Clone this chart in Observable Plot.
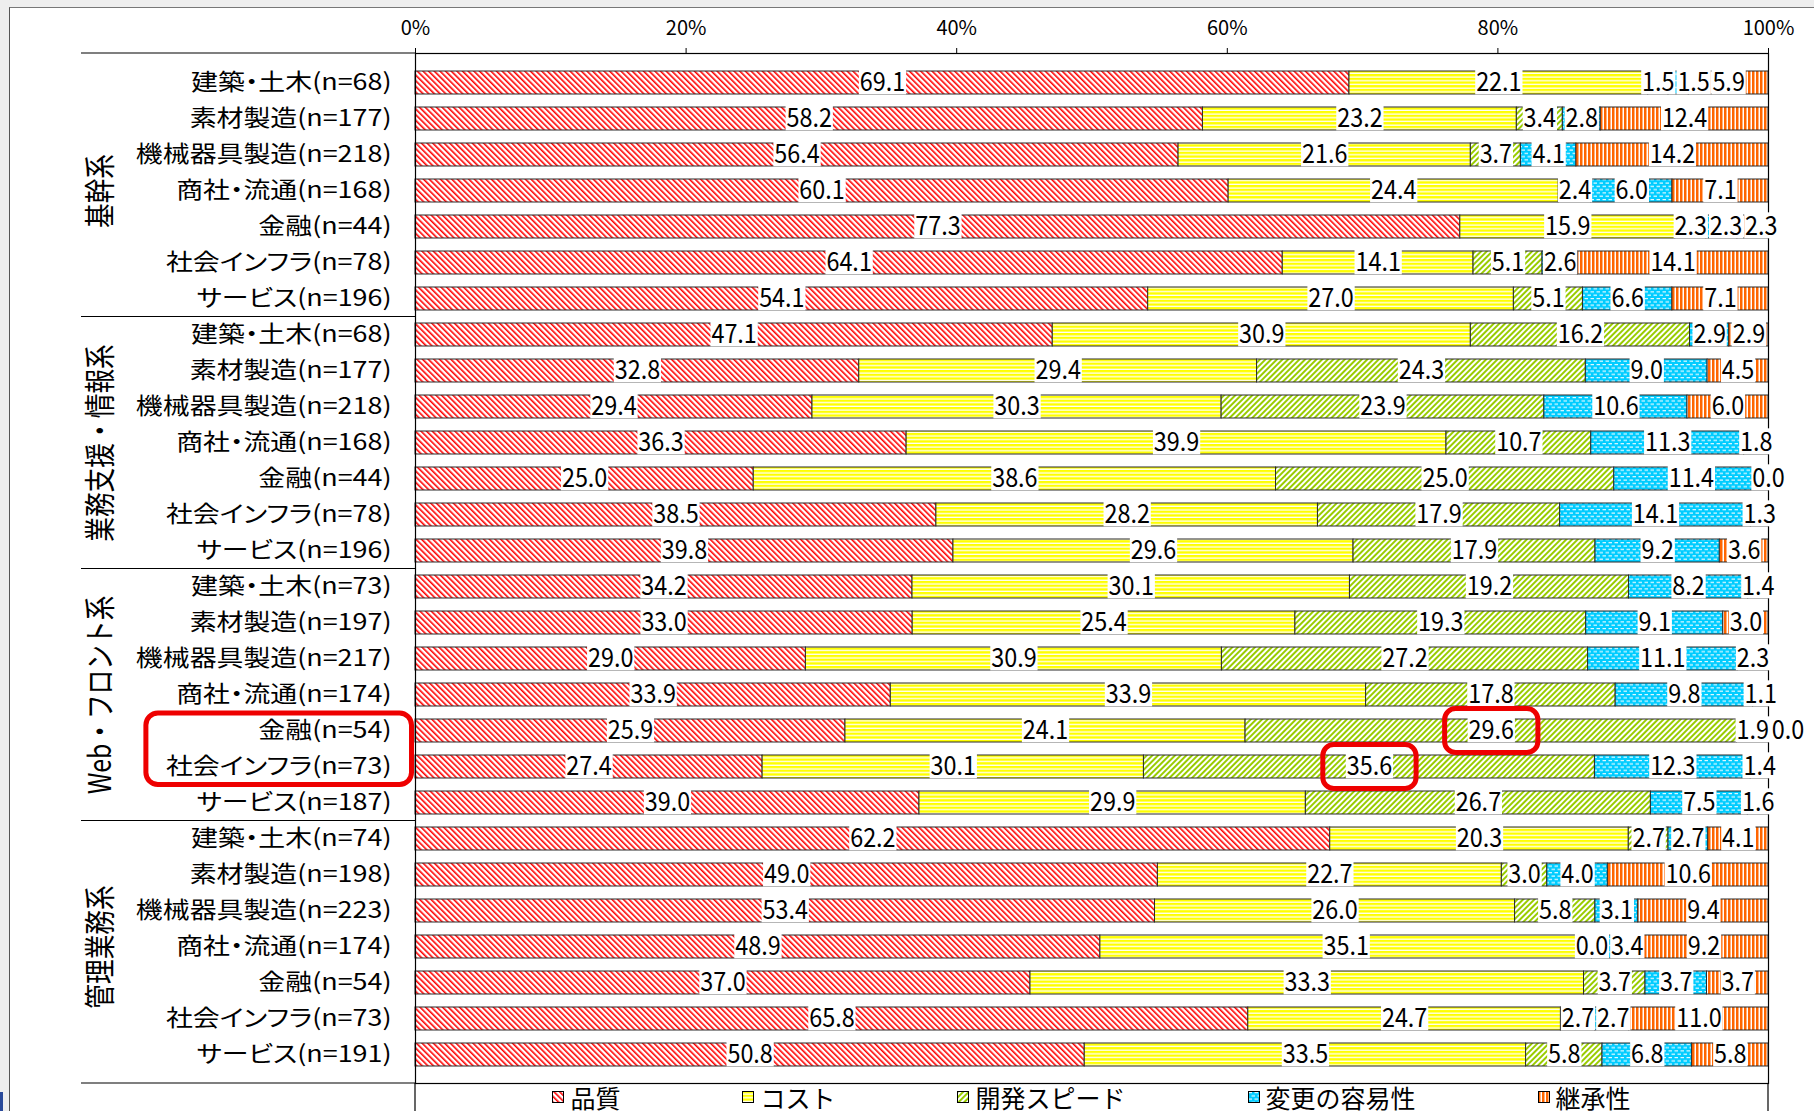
<!DOCTYPE html>
<html>
<head>
<meta charset="utf-8">
<script src="https://cdn.jsdelivr.net/npm/d3@7"></script>
<script src="https://cdn.jsdelivr.net/npm/@observablehq/plot@0.6"></script>
<style>
html,body{margin:0;padding:0;}
body{width:1814px;height:1111px;overflow:hidden;background:#eeeeee;position:relative;font-family:'Noto Sans CJK JP','Noto Sans',sans-serif;}
#sheet{position:absolute;left:9px;top:7px;right:0;bottom:0;background:#fff;border-left:1px solid #555;border-top:1px solid #777;}
#chart{position:absolute;left:0;top:0;width:1814px;height:1111px;}
#legend{position:absolute;left:415px;top:1084px;width:1353px;height:26px;display:flex;justify-content:center;align-items:center;gap:122px;font-size:25px;line-height:25px;color:#000;white-space:nowrap;}
#legend .item{display:flex;align-items:center;gap:6px;}
#legend svg{display:block;}
#blue{position:absolute;left:0;top:1092px;width:3px;height:19px;background:#2a4a9a;}
</style>
</head>
<body>
<svg width="0" height="0" style="position:absolute;left:0;top:0">
  <defs>
    <pattern id="pat0" patternUnits="userSpaceOnUse" width="4" height="4" patternTransform="rotate(-45)">
      <rect width="4" height="4" fill="#ffffff"/>
      <rect width="1.6" height="4" fill="#ff0000"/>
    </pattern>
    <pattern id="pat1" patternUnits="userSpaceOnUse" width="4" height="3.7">
      <rect width="4" height="3.7" fill="#ffffff"/>
      <rect width="4" height="2.4" fill="#ffff00"/>
    </pattern>
    <pattern id="pat2" patternUnits="userSpaceOnUse" width="4" height="4" patternTransform="rotate(45)">
      <rect width="4" height="4" fill="#ffffff"/>
      <rect width="2" height="4" fill="#99cc00"/>
    </pattern>
    <pattern id="pat3" patternUnits="userSpaceOnUse" width="6" height="6.6">
      <rect width="6" height="6.6" fill="#00ccff"/>
      <rect x="0.5" y="1" width="3.5" height="1.1" fill="#ffffff"/>
      <rect x="3.5" y="4.3" width="3.5" height="1.1" fill="#ffffff"/>
      <rect x="-2.5" y="4.3" width="3.5" height="1.1" fill="#ffffff"/>
    </pattern>
    <pattern id="pat4" patternUnits="userSpaceOnUse" width="4" height="4">
      <rect width="4" height="4" fill="#ffffff"/>
      <rect width="2.5" height="4" fill="#ff6600"/>
    </pattern>
  </defs>
</svg>
<div id="sheet"></div>
<div id="blue"></div>
<div id="chart"></div>
<div id="legend"></div>
<script>
// ---------- data ----------
const categoryGroup = [
  "基幹系","基幹系","基幹系","基幹系","基幹系","基幹系","基幹系",
  "業務支援・情報系","業務支援・情報系","業務支援・情報系","業務支援・情報系","業務支援・情報系","業務支援・情報系","業務支援・情報系",
  "Web・フロント系","Web・フロント系","Web・フロント系","Web・フロント系","Web・フロント系","Web・フロント系","Web・フロント系",
  "管理業務系","管理業務系","管理業務系","管理業務系","管理業務系","管理業務系","管理業務系"
];
const categories = [
  "建築・土木(n=68)","素材製造(n=177)","機械器具製造(n=218)","商社・流通(n=168)","金融(n=44)","社会インフラ(n=78)","サービス(n=196)",
  "建築・土木(n=68)","素材製造(n=177)","機械器具製造(n=218)","商社・流通(n=168)","金融(n=44)","社会インフラ(n=78)","サービス(n=196)",
  "建築・土木(n=73)","素材製造(n=197)","機械器具製造(n=217)","商社・流通(n=174)","金融(n=54)","社会インフラ(n=73)","サービス(n=187)",
  "建築・土木(n=74)","素材製造(n=198)","機械器具製造(n=223)","商社・流通(n=174)","金融(n=54)","社会インフラ(n=73)","サービス(n=191)"
];
const series = ["品質","コスト","開発スピード","変更の容易性","継承性"];
const quality = [69.1,58.2,56.4,60.1,77.3,64.1,54.1, 47.1,32.8,29.4,36.3,25.0,38.5,39.8, 34.2,33.0,29.0,33.9,25.9,27.4,39.0, 62.2,49.0,53.4,48.9,37.0,65.8,50.8];
const cost    = [22.1,23.2,21.6,24.4,15.9,14.1,27.0, 30.9,29.4,30.3,39.9,38.6,28.2,29.6, 30.1,25.4,30.9,33.9,24.1,30.1,29.9, 20.3,22.7,26.0,35.1,33.3,24.7,33.5];
const speed   = [1.5,3.4,3.7,2.4,2.3,5.1,5.1, 16.2,24.3,23.9,10.7,25.0,17.9,17.9, 19.2,19.3,27.2,17.8,29.6,35.6,26.7, 2.7,3.0,5.8,0.0,3.7,2.7,5.8];
const ease    = [1.5,2.8,4.1,6.0,2.3,2.6,6.6, 2.9,9.0,10.6,11.3,11.4,14.1,9.2, 8.2,9.1,11.1,9.8,1.9,12.3,7.5, 2.7,4.0,3.1,3.4,3.7,2.7,6.8];
const inherit = [5.9,12.4,14.2,7.1,2.3,14.1,7.1, 2.9,4.5,6.0,1.8,0.0,1.3,3.6, 1.4,3.0,2.3,1.1,0.0,1.4,1.6, 4.1,10.6,9.4,9.2,3.7,11.0,5.8];
const xTicks = [0, 0.2, 0.4, 0.6, 0.8, 1];
const highlightRows = ["Web・フロント系|金融(n=54)", "Web・フロント系|社会インフラ(n=73)"];
const highlightLabels = [
  {key: "Web・フロント系|金融(n=54)", series: "開発スピード"},
  {key: "Web・フロント系|社会インフラ(n=73)", series: "開発スピード"}
];

(function () {
// ---------- tables ----------
const seriesValues = [quality, cost, speed, ease, inherit];
const keys = categories.map((c, i) => categoryGroup[i] + "|" + c);
const table = [];
keys.forEach((k, i) => series.forEach((s, j) => table.push({key: k, series: s, value: seriesValues[j][i]})));
const groupNames = Array.from(new Set(categoryGroup));
const groupLabels = groupNames.map(g => {
  const ks = keys.filter((k, i) => categoryGroup[i] === g);
  return {name: g, mid: ks[Math.floor(ks.length / 2)], last: ks[ks.length - 1]};
});
const patterns = series.map((s, i) => `url(#pat${i})`);
const FONT = "'Noto Sans CJK JP','Noto Sans',sans-serif";

// ---------- plot ----------
const chart = Plot.plot({
  width: 1814, height: 1111,
  marginLeft: 415, marginRight: 46, marginTop: 53, marginBottom: 28,
  style: {background: "transparent", fontFamily: FONT, overflow: "visible", color: "#000"},
  x: {domain: [0, 1]},
  y: {domain: keys, paddingInner: 0.375, paddingOuter: 0.2},
  color: {domain: series, range: patterns},
  marks: [
    Plot.barX(table, Plot.stackX({x: "value", y: "key", fill: "series", stroke: "#2b2b2b", strokeWidth: 1, offset: "normalize"})),
    Plot.frame({stroke: "#000", strokeWidth: 1.2}),
    Plot.axisX({anchor: "top", ticks: xTicks, tickFormat: d3.format(".0%"), tickSize: 6, tickPadding: 13, fontSize: 20, label: null, stroke: "#000"}),
    Plot.axisY({anchor: "left", tickSize: 0, tickPadding: 24, tickFormat: k => k.split("|")[1], fontSize: 23, label: null}),
    Plot.text(groupLabels, {y: "mid", text: "name", frameAnchor: "left", textAnchor: "middle", dx: -315, rotate: -90, fontSize: 26, fill: "#000"}),
    Plot.text(table, Plot.stackX({x: "value", y: "key", text: d => d.value.toFixed(1), offset: "normalize", fontSize: 26, fill: "#000"}))
  ]
});
document.getElementById("chart").appendChild(chart);

// ---------- post-processing ----------
const S = d3.select(chart);
const ys = chart.scale("y");
const xs = chart.scale("x");
const bw = ys.bandwidth, step = ys.step;
const yc = k => ys.apply(k) + bw / 2;
const X0 = xs.apply(0), X1 = xs.apply(1);
const yTopLine = 53, yBottomLine = 1111 - 28, leftEdge = 81;
const svgRect = chart.getBoundingClientRect();

// table lines of the two-level category axis
const lines = S.append("g").attr("stroke", "#000").attr("stroke-width", 1.2);
const hline = (x1, x2, y) => lines.append("line").attr("x1", x1).attr("x2", x2).attr("y1", y).attr("y2", y);
hline(leftEdge, X0, yTopLine);
hline(leftEdge, X0, yBottomLine);
groupLabels.slice(0, -1).forEach(g => hline(leftEdge, X0, ys.apply(g.last) + bw + (step - bw) / 2));
[X0, X1].forEach(x => lines.append("line").attr("x1", x).attr("x2", x).attr("y1", yBottomLine).attr("y2", 1111));

// scale an element about a local anchor point (keeps Plot's own placement)
const scaleAbout = (el, base, sx, sy, ax, ay, shift = 0) =>
  el.setAttribute("transform", `${base} translate(${shift},0) translate(${ax},${ay}) scale(${sx},${sy}) translate(${-ax},${-ay})`);

// category labels: wider kanji, proportional kana (like the original font)
S.selectAll('g[aria-label="y-axis tick label"]').style("font-feature-settings", "'palt'");
S.selectAll('g[aria-label="y-axis tick label"] text').each(function() {
  const bb = this.getBBox();
  scaleAbout(this, this.getAttribute("transform") || "", 1.17, 1, bb.x + bb.width, bb.y + bb.height / 2);
});

const textGroups = S.selectAll('g[aria-label="text"]').nodes();
// group labels: a little shorter along the text, wider across it
d3.select(textGroups[0]).selectAll("text").each(function() {
  const bb = this.getBBox();
  scaleAbout(this, this.getAttribute("transform") || "", 0.95, 1.2, bb.x + bb.width / 2, bb.y + bb.height / 2);
});

// value labels: white boxes, slightly narrow digits, pushed right when they would collide
const valueG = textGroups[textGroups.length - 1];
const boxByIndex = new Map();
const labels = [];
const SX = 0.9;
d3.select(valueG).selectAll("text").each(function(i) {
  const bb = this.getBBox();
  const h = bw + 3;
  const r = document.createElementNS("http://www.w3.org/2000/svg", "rect");
  const tr = this.getAttribute("transform") || "";
  r.setAttribute("x", bb.x - 1);
  r.setAttribute("width", bb.width + 2);
  r.setAttribute("y", bb.y + bb.height / 2 - h / 2 + 1.5);
  r.setAttribute("height", h);
  r.setAttribute("fill", "#fff");
  this.parentNode.insertBefore(r, this);
  const ax = bb.x + bb.width / 2, ay = bb.y + bb.height / 2;
  scaleAbout(this, tr, SX, 1, ax, ay);
  scaleAbout(r, tr, SX, 1, ax, ay);
  boxByIndex.set(i, r);
  labels.push({i, text: this, rect: r, tr, ax, ay, key: table[i].key});
});
d3.group(labels, d => d.key).forEach(row => {
  row.sort((a, b) => a.i - b.i);
  let prevRight = -Infinity;
  row.forEach(l => {
    const b = l.rect.getBoundingClientRect();
    const left = b.left - svgRect.left;
    const shift = left < prevRight ? prevRight - left + 1 : 0;
    if (shift > 0) {
      scaleAbout(l.text, l.tr, SX, 1, l.ax, l.ay, shift);
      scaleAbout(l.rect, l.tr, SX, 1, l.ax, l.ay, shift);
    }
    prevRight = b.right - svgRect.left + shift;
  });
});

// highlight rounded rectangles
const hl = S.append("g").attr("fill", "none").attr("stroke", "#ee0000").attr("stroke-width", 5);
const rel = el => {
  const b = el.getBoundingClientRect();
  return {x: b.left - svgRect.left, y: b.top - svgRect.top, w: b.width, h: b.height};
};
highlightLabels.forEach(h => {
  const i = keys.indexOf(h.key) * series.length + series.indexOf(h.series);
  const box = boxByIndex.get(i);
  if (!box) return;
  const b = rel(box);
  const cx = b.x + b.w / 2, cy = yc(h.key);
  const w = b.w + 46, hh = bw + 21;
  hl.append("rect").attr("x", cx - w / 2).attr("y", cy - hh / 2).attr("width", w).attr("height", hh).attr("rx", 11);
});
const yTickTexts = S.selectAll('g[aria-label="y-axis tick label"] text').nodes();
if (yTickTexts.length === keys.length) {
  const idx = highlightRows.map(k => keys.indexOf(k));
  const bbs = idx.map(i => rel(yTickTexts[i]));
  const x1 = d3.min(bbs, b => b.x) - 20, x2 = d3.max(bbs, b => b.x + b.w) + 20;
  const y1 = yc(highlightRows[0]) - bw / 2 - 6, y2 = yc(highlightRows[highlightRows.length - 1]) + bw / 2 + 6.5;
  hl.append("rect").attr("x", x1).attr("y", y1).attr("width", x2 - x1).attr("height", y2 - y1).attr("rx", 12);
}

// ---------- legend ----------
const legend = d3.select("#legend");
series.forEach((s, i) => {
  const item = legend.append("div").attr("class", "item");
  const sw = item.append("svg").attr("width", 12).attr("height", 12);
  sw.append("rect").attr("x", 0.5).attr("y", 0.5).attr("width", 11).attr("height", 11).attr("fill", patterns[i]).attr("stroke", "#000");
  item.append("span").text(s);
});
})();
</script>
</body>
</html>
